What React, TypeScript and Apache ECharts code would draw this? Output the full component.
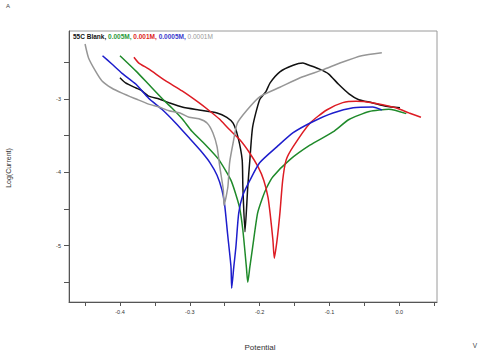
import React, { useEffect, useRef } from "react";
import * as echarts from "echarts";

// Potential (V) vs Log(Current)
const blank55C: [number, number][] = [
  [-0.400, -2.71], [-0.392, -2.78], [-0.377, -2.85], [-0.370, -2.88], [-0.359, -2.96],
  [-0.344, -3.00], [-0.330, -3.05], [-0.311, -3.11], [-0.287, -3.15], [-0.261, -3.19],
  [-0.247, -3.25], [-0.238, -3.33], [-0.231, -3.52], [-0.225, -3.83], [-0.224, -4.20],
  [-0.221, -4.81], [-0.217, -4.20], [-0.214, -3.83], [-0.210, -3.38], [-0.200, -3.01],
  [-0.191, -2.90], [-0.185, -2.78], [-0.171, -2.63], [-0.152, -2.54], [-0.138, -2.51],
  [-0.129, -2.54], [-0.115, -2.59], [-0.101, -2.66], [-0.087, -2.80], [-0.072, -2.93],
  [-0.058, -3.01], [-0.039, -3.05], [-0.019, -3.10], [0.001, -3.12],
];

const m0005: [number, number][] = [
  [-0.400, -2.41], [-0.377, -2.62], [-0.359, -2.80], [-0.340, -2.99], [-0.326, -3.12],
  [-0.311, -3.27], [-0.297, -3.44], [-0.278, -3.62], [-0.259, -3.82], [-0.241, -4.11],
  [-0.229, -4.47], [-0.224, -4.79], [-0.219, -5.29], [-0.217, -5.50], [-0.214, -5.29],
  [-0.210, -5.02], [-0.203, -4.56], [-0.196, -4.35], [-0.190, -4.21], [-0.181, -4.06],
  [-0.157, -3.83], [-0.128, -3.63], [-0.095, -3.45], [-0.072, -3.28], [-0.043, -3.17],
  [-0.015, -3.14], [0.010, -3.20],
];

const m0001: [number, number][] = [
  [-0.380, -2.43], [-0.373, -2.51], [-0.359, -2.59], [-0.335, -2.75], [-0.311, -2.89],
  [-0.287, -3.05], [-0.272, -3.16], [-0.258, -3.27], [-0.244, -3.41], [-0.228, -3.56],
  [-0.214, -3.74], [-0.202, -3.93], [-0.194, -4.11], [-0.188, -4.34], [-0.185, -4.56],
  [-0.181, -4.92], [-0.179, -5.17], [-0.175, -4.92], [-0.171, -4.56], [-0.167, -4.11],
  [-0.162, -3.83], [-0.152, -3.65], [-0.128, -3.33], [-0.104, -3.15], [-0.081, -3.05],
  [-0.062, -3.03], [-0.039, -3.05], [-0.005, -3.12], [0.014, -3.19], [0.031, -3.25],
];

const m00005: [number, number][] = [
  [-0.425, -2.41], [-0.412, -2.52], [-0.397, -2.65], [-0.377, -2.80], [-0.359, -2.99],
  [-0.340, -3.14], [-0.320, -3.33], [-0.301, -3.53], [-0.285, -3.70], [-0.271, -3.87],
  [-0.261, -4.04], [-0.254, -4.24], [-0.250, -4.45], [-0.246, -4.83], [-0.241, -5.29],
  [-0.240, -5.58], [-0.237, -5.29], [-0.234, -5.02], [-0.230, -4.56], [-0.224, -4.31],
  [-0.214, -4.11], [-0.200, -3.87], [-0.175, -3.65], [-0.152, -3.46], [-0.124, -3.31],
  [-0.095, -3.19], [-0.066, -3.12], [-0.038, -3.11], [-0.025, -3.15],
];

const m00001: [number, number][] = [
  [-0.450, -2.25], [-0.445, -2.44], [-0.435, -2.62], [-0.426, -2.75], [-0.412, -2.85],
  [-0.397, -2.92], [-0.377, -3.00], [-0.359, -3.07], [-0.344, -3.11], [-0.330, -3.16],
  [-0.314, -3.19], [-0.301, -3.25], [-0.287, -3.27], [-0.275, -3.33], [-0.267, -3.46],
  [-0.261, -3.65], [-0.257, -3.93], [-0.252, -4.24], [-0.251, -4.45], [-0.2455, -4.20],
  [-0.243, -3.87], [-0.238, -3.60], [-0.232, -3.33], [-0.218, -3.15], [-0.200, -2.97],
  [-0.171, -2.84], [-0.142, -2.71], [-0.109, -2.60], [-0.085, -2.51], [-0.054, -2.41],
  [-0.025, -2.37],
];

const xTickValues = [-0.45, -0.4, -0.35, -0.3, -0.25, -0.2, -0.15, -0.1, -0.05, 0, 0.05];
const xLabelValues = [-0.4, -0.3, -0.2, -0.1, 0];
const yTickValues = [-5.5, -5, -4.5, -4, -3.5, -3, -2.5];
const yLabelValues = [-5, -4, -3];

const seriesDefs = [
  { name: "55C Blank", data: blank55C, color: "#111111" },
  { name: "0.005M", data: m0005, color: "#1f8a2a" },
  { name: "0.001M", data: m0001, color: "#dd1c24" },
  { name: "0.0005M", data: m00005, color: "#1d1dcc" },
  { name: "0.0001M", data: m00001, color: "#969696" },
];

export default function App() {
  const ref = useRef<HTMLDivElement>(null);
  useEffect(() => {
    if (!ref.current) return;
    const chart = echarts.init(ref.current, null, { renderer: "svg" });
    const font = "Liberation Sans, Arial, sans-serif";
    chart.setOption({
      animation: false,
      backgroundColor: "#ffffff",
      grid: {
        left: 69, top: 31, right: 43, bottom: 52,
        show: true, borderColor: "#9a9a9a", borderWidth: 1,
      },
      xAxis: {
        type: "value",
        min: -0.473, max: 0.054,
        axisLine: { onZero: false, lineStyle: { color: "#555", width: 1 } },
        axisTick: { show: true, length: 4, customValues: xTickValues, lineStyle: { color: "#555" } },
        axisLabel: {
          customValues: xLabelValues, margin: 7, fontSize: 5.5, color: "#333", fontFamily: font,
          formatter: (v: number) => v.toFixed(1),
        },
        splitLine: { show: false },
      },
      yAxis: {
        type: "value",
        min: -5.768, max: -2.073,
        axisLine: { onZero: false, lineStyle: { color: "#555", width: 1 } },
        axisTick: { show: true, length: 5, customValues: yTickValues, lineStyle: { color: "#555" } },
        axisLabel: {
          customValues: yLabelValues, margin: 8, fontSize: 5.5, color: "#333", fontFamily: font,
          formatter: (v: number) => String(v),
        },
        splitLine: { show: false },
      },
      series: seriesDefs.map((s) => ({
        type: "line",
        name: s.name,
        data: s.data,
        showSymbol: false,
        smooth: 0.2,
        lineStyle: { color: s.color, width: 1.5 },
        itemStyle: { color: s.color },
      })),
      graphic: [
        {
          type: "text", left: 73, top: 33,
          style: {
            text: "{k|55C Blank, }{g|0.005M, }{r|0.001M, }{b|0.0005M, }{y|0.0001M}",
            rich: {
              k: { fill: "#111", fontWeight: "bold", fontSize: 6.5, fontFamily: font },
              g: { fill: "#2a9a3a", fontWeight: "bold", fontSize: 6.5, fontFamily: font },
              r: { fill: "#dd1c24", fontWeight: "bold", fontSize: 6.5, fontFamily: font },
              b: { fill: "#3a3acc", fontWeight: "bold", fontSize: 6.5, fontFamily: font },
              y: { fill: "#999", fontSize: 6.5, fontFamily: font },
            },
          },
        },
        { type: "text", x: 6, y: 3, style: { text: "A", fontSize: 6, fill: "#444", fontFamily: font } },
        {
          type: "text", x: 260, y: 347,
          style: { text: "Potential", fontSize: 8, fill: "#333", fontFamily: font, align: "center", verticalAlign: "middle" },
        },
        {
          type: "text", x: 475, y: 345,
          style: { text: "V", fontSize: 6.5, fill: "#444", fontFamily: font, align: "center", verticalAlign: "middle" },
        },
        {
          type: "text", x: 8, y: 168, rotation: Math.PI / 2,
          style: { text: "Log(Current)", fontSize: 7, fill: "#333", fontFamily: font, align: "center", verticalAlign: "middle" },
        },
      ],
    });
    return () => chart.dispose();
  }, []);
  return <div ref={ref} style={{ width: 480, height: 354, position: "absolute", left: 0, top: 0 }} />;
}
